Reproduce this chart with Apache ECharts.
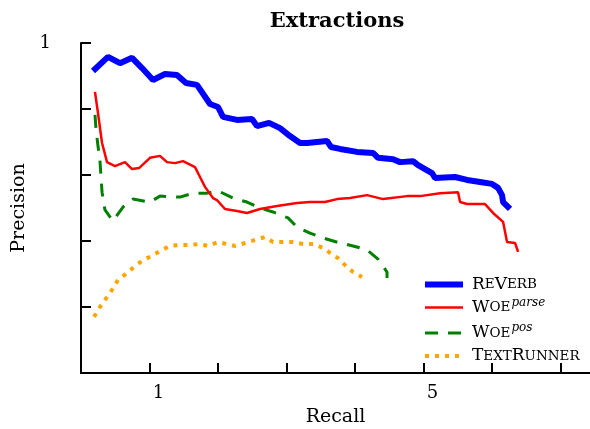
<!DOCTYPE html>
<html>
<head>
<meta charset="utf-8">
<script src="https://cdn.jsdelivr.net/npm/echarts@6/dist/echarts.min.js"></script>
<style>html,body{margin:0;padding:0;background:#fff}#c{width:590px;height:429px}</style>
</head>
<body>
<div id="c"></div>
<script>
// Data (recall, precision)
var reverb = [[0.175,0.915],[0.394,0.958],[0.569,0.939],[0.745,0.955],[0.891,0.924],[1.051,0.888],[1.226,0.906],[1.401,0.903],[1.533,0.879],[1.693,0.873],[1.883,0.815],[2.0,0.806],[2.073,0.776],[2.277,0.767],[2.496,0.770],[2.569,0.748],[2.745,0.758],[2.905,0.742],[3.051,0.718],[3.197,0.697],[3.299,0.697],[3.591,0.703],[3.650,0.685],[3.781,0.679],[4.029,0.670],[4.263,0.667],[4.336,0.652],[4.555,0.648],[4.657,0.639],[4.847,0.642],[4.920,0.630],[5.124,0.606],[5.168,0.591],[5.460,0.594],[5.635,0.585],[5.825,0.579],[6.0,0.573],[6.088,0.561],[6.146,0.539],[6.161,0.518],[6.263,0.497]];
var woeParse = [[0.204,0.852],[0.248,0.788],[0.307,0.697],[0.380,0.639],[0.496,0.627],[0.642,0.639],[0.745,0.618],[0.847,0.621],[1.007,0.652],[1.153,0.658],[1.255,0.639],[1.372,0.636],[1.489,0.642],[1.664,0.624],[1.737,0.594],[1.810,0.564],[1.927,0.530],[1.985,0.524],[2.102,0.497],[2.277,0.491],[2.423,0.485],[2.613,0.497],[2.861,0.506],[3.153,0.515],[3.343,0.518],[3.562,0.518],[3.737,0.527],[3.927,0.530],[4.175,0.539],[4.409,0.527],[4.759,0.536],[4.949,0.536],[5.241,0.545],[5.504,0.548],[5.533,0.518],[5.635,0.512],[5.898,0.512],[6.015,0.485],[6.161,0.458],[6.219,0.397],[6.336,0.394],[6.380,0.367]];
var woePos = [[0.204,0.782],[0.219,0.739],[0.248,0.688],[0.277,0.642],[0.307,0.548],[0.350,0.494],[0.467,0.461],[0.613,0.503],[0.759,0.527],[1.007,0.518],[1.153,0.536],[1.445,0.533],[1.635,0.545],[1.839,0.545],[2.0,0.552],[2.219,0.530],[2.423,0.518],[2.613,0.500],[2.803,0.488],[3.022,0.470],[3.153,0.442],[3.343,0.424],[3.533,0.409],[3.781,0.394],[3.971,0.385],[4.175,0.373],[4.336,0.345],[4.467,0.306],[4.467,0.288]];
var textRunner = [[0.190,0.170],[0.277,0.200],[0.453,0.252],[0.540,0.282],[0.672,0.303],[0.788,0.324],[0.905,0.342],[1.036,0.355],[1.182,0.373],[1.299,0.385],[1.445,0.388],[1.591,0.388],[1.737,0.391],[1.854,0.385],[2.0,0.397],[2.248,0.385],[2.394,0.394],[2.540,0.403],[2.686,0.412],[2.803,0.397],[2.949,0.397],[3.095,0.397],[3.241,0.391],[3.387,0.391],[3.533,0.379],[3.635,0.364],[3.752,0.348],[3.854,0.327],[3.971,0.306],[4.102,0.291]];
var xTickLabels = [1, 5];
var yTickLabels = [1];
var seriesNames = ['ReVerb', 'WoE parse', 'WoE pos', 'TextRunner'];

var legendRich = {
  '0': '{f|R}{s|E}{b|V}{s|ERB}',
  '1': '{f|W}{s|OE}{p|parse}',
  '2': '{f|W}{s|OE}{p|pos}',
  '3': '{f|T}{s|EXT}{b|R}{s|UNNER}'
};
var colors = ['#0000ff', '#ff0000', '#008000', '#ffa500'];
var widths = [6, 2.5, 3, 4];
var dashes = ['solid', 'solid', [13, 10], [4, 6]];
var serif = 'DejaVu Serif';
var chart = echarts.init(document.getElementById('c'), null, {renderer: 'canvas'});
chart.setOption({
  animation: false,
  backgroundColor: '#fff',
  title: {
    text: 'Extractions', left: 332, top: 6, textAlign: 'center',
    textStyle: {fontFamily: serif, fontWeight: 'bold', fontSize: 21, color: '#000'}
  },
  grid: {left: 81, right: 0, top: 43, bottom: 56, containLabel: false, outerBoundsMode: 'none'},
  legend: {
    orient: 'vertical', left: 422, top: 276, padding: 0,
    itemWidth: 38, itemHeight: 14, itemGap: 3.5,
    itemStyle: {opacity: 0, borderWidth: 0},
    data: seriesNames.map(function (n, i) {
      return {name: n, lineStyle: {width: widths[i], color: colors[i], type: dashes[i]}};
    }),
    formatter: function (n) { return legendRich[seriesNames.indexOf(n)]; },
    textStyle: {
      color: '#000', fontFamily: serif,
      rich: {
        f: {fontFamily: serif, fontSize: 17, lineHeight: 20, color: '#000', padding: [0, 0, 0, 4]},
        b: {fontFamily: serif, fontSize: 17, lineHeight: 20, color: '#000'},
        s: {fontFamily: serif, fontSize: 13.5, lineHeight: 20, color: '#000'},
        p: {fontFamily: serif, fontSize: 12, fontStyle: 'italic', lineHeight: 20, padding: [0, 0, 10, 1], color: '#000'}
      }
    }
  },
  xAxis: {
    type: 'value', min: 0, max: 7.43, interval: 1,
    name: 'Recall', nameLocation: 'middle', nameGap: 35,
    nameTextStyle: {fontFamily: serif, fontSize: 19, color: '#000'},
    axisLine: {show: true, onZero: false, lineStyle: {color: '#000', width: 2}},
    axisTick: {show: true, inside: true, length: 10, lineStyle: {color: '#000', width: 2}},
    axisLabel: {
      margin: 11, showMaxLabel: false,
      formatter: function (v) { return xTickLabels.indexOf(v) >= 0 ? '{o|' + v + '}' : ''; },
      rich: {o: {fontFamily: serif, fontSize: 18, color: '#000', padding: [0, 0, 0, 18]}}
    },
    splitLine: {show: false}
  },
  yAxis: {
    type: 'value', min: 0, max: 1, interval: 0.2,
    name: 'Precision', nameLocation: 'middle', nameGap: 50,
    nameTextStyle: {fontFamily: serif, fontSize: 19, color: '#000'},
    axisLine: {show: true, lineStyle: {color: '#000', width: 2}},
    axisTick: {show: true, inside: true, length: 10, lineStyle: {color: '#000', width: 2}},
    axisLabel: {
      margin: 30, fontFamily: serif, fontSize: 18, color: '#000',
      formatter: function (v) { return yTickLabels.some(function (t) { return Math.abs(t - v) < 1e-9; }) ? String(Math.round(v)) : ''; }
    },
    splitLine: {show: false}
  },
  series: [
    {name: seriesNames[0], type: 'line', data: reverb, symbol: 'none', z: 5,
     lineStyle: {color: colors[0], width: widths[0], type: dashes[0]}, itemStyle: {color: colors[0]}},
    {name: seriesNames[1], type: 'line', data: woeParse, symbol: 'none', z: 4,
     lineStyle: {color: colors[1], width: widths[1], type: dashes[1]}, itemStyle: {color: colors[1]}},
    {name: seriesNames[2], type: 'line', data: woePos, symbol: 'none', z: 3,
     lineStyle: {color: colors[2], width: widths[2], type: dashes[2]}, itemStyle: {color: colors[2]}},
    {name: seriesNames[3], type: 'line', data: textRunner, symbol: 'none', z: 2,
     lineStyle: {color: colors[3], width: widths[3], type: dashes[3]}, itemStyle: {color: colors[3]}}
  ]
});
</script>
</body>
</html>
